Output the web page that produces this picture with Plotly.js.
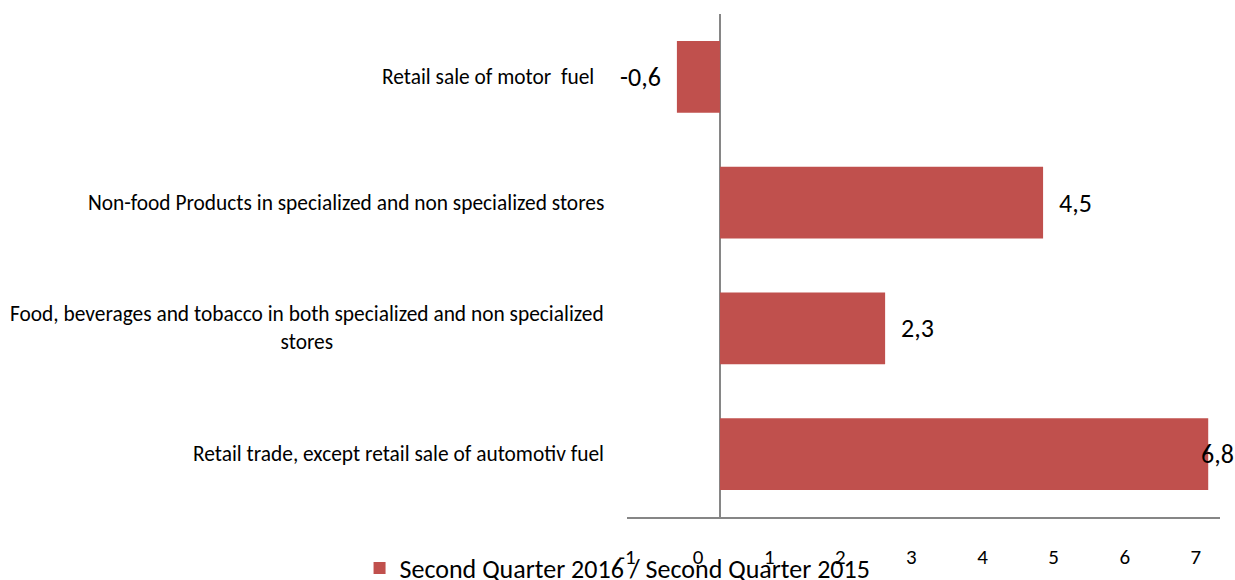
<!DOCTYPE html>
<html>
<head>
<meta charset="utf-8">
<script src="https://cdn.plot.ly/plotly-3.0.1.min.js"></script>
<style>html,body{margin:0;padding:0;background:#fff;}#chart{width:1235px;height:580px;}</style>
</head>
<body>
<div id="chart"></div>
<script>
// Data (top-to-bottom order as in the chart)
var categories = [
  "Retail sale of motor\u00a0 fuel\u00a0\u00a0",
  "Non-food Products in specialized and non specialized stores",
  "Food, beverages and tobacco in both specialized and non specialized<br>stores",
  "Retail trade, except retail sale of automotiv fuel"
];
var values = [-0.6, 4.5, 2.3, 6.8];
var valueLabels = ["-0,6", "4,5", "2,3", "6,8"];
var seriesName = "Second Quarter 2016 / Second Quarter 2015";
var tickVals = [-1, 0, 1, 2, 3, 4, 5, 6, 7];
var tickText = ["-1", "0", "1", "2", "3", "4", "5", "6", "7"];

var FONT = "Carlito, Lato, sans-serif";
var BAR = "#C0504D";
var AXIS = "#868686";

var trace = {
  type: "bar",
  orientation: "h",
  x: values,
  y: categories,
  name: seriesName,
  marker: {color: BAR},
  width: 0.57,
  hoverinfo: "none"
};
// carrier for the (offset) tick-label axis, as in the original chart
var labelAxisTrace = {
  type: "scatter", mode: "markers", x: [], y: [],
  xaxis: "x2", yaxis: "y", showlegend: false, hoverinfo: "none"
};

var annotations = [];
var maxV = Math.max.apply(null, values);
values.forEach(function (v, i) {
  var a = {
    x: v, y: categories[i], xref: "x", yref: "y",
    text: valueLabels[i], showarrow: false,
    font: {family: FONT, size: 26, color: "#000"}
  };
  if (v < 0) { a.xanchor = "right"; a.xshift = -14; }
  else if (v === maxV) { a.xanchor = "right"; a.xshift = 28; }
  else { a.xanchor = "left"; a.xshift = 14; }
  annotations.push(a);
  annotations.push({
    x: -0.036, xref: "paper", y: categories[i], yref: "y",
    text: categories[i], showarrow: false, xanchor: "right", align: "center",
    font: {family: FONT, size: 21.4, color: "#000"}
  });
});

var layout = {
  width: 1235, height: 580,
  margin: {l: 627, r: 15, t: 14, b: 63, pad: 0, autoexpand: false},
  paper_bgcolor: "#fff", plot_bgcolor: "#fff",
  showlegend: true,
  legend: {
    orientation: "h", x: -0.451, xanchor: "left", y: -0.1014, yanchor: "middle",
    font: {family: FONT, size: 26, color: "#000"},
    bgcolor: "rgba(0,0,0,0)"
  },
  xaxis: {
    range: [-1.295, 6.964],
    showticklabels: false,
    showgrid: false, zeroline: true, zerolinecolor: AXIS, zerolinewidth: 2,
    showline: true, linecolor: AXIS, linewidth: 2,
    ticks: "", fixedrange: true
  },
  xaxis2: {
    overlaying: "x", anchor: "y", side: "bottom",
    range: [-1, 7.34],
    tickvals: tickVals, ticktext: tickText,
    showgrid: false, zeroline: false, showline: false,
    ticks: "", ticklabelstandoff: 25,
    tickfont: {family: FONT, size: 21, color: "#000"},
    fixedrange: true
  },
  yaxis: {
    autorange: "reversed",
    showticklabels: false, showgrid: false, showline: false, zeroline: false,
    ticks: "", fixedrange: true
  },
  annotations: annotations,
  bargap: 0.43
};

Plotly.newPlot("chart", [trace, labelAxisTrace], layout, {displayModeBar: false, staticPlot: true});
</script>
</body>
</html>
